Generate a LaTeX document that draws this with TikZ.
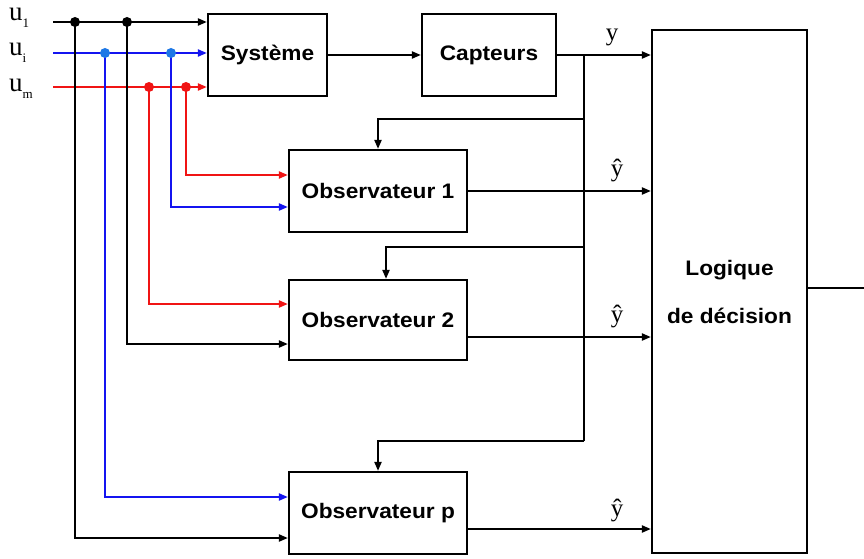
\documentclass[tikz,border=0pt]{standalone}
\usepackage{fontspec}
\usetikzlibrary{arrows.meta,calc}
\newfontfamily\boxfont[FakeStretch=1.08]{Liberation Sans Bold}
\newfontfamily\labfont{Liberation Serif}
\definecolor{myblue}{RGB}{20,20,240}
\definecolor{mydotblue}{RGB}{30,120,230}
\definecolor{myred}{RGB}{240,20,20}
\newcommand{\ulab}[1]{{\labfont\fontsize{27}{27}\selectfont u\raisebox{-7pt}{\fontsize{13}{13}\selectfont #1}}}
\begin{document}
\begin{tikzpicture}[x=1pt,y=-1pt,
  blk/.style={draw,line width=2.2pt,fill=white,inner sep=0pt,font=\boxfont\fontsize{21}{24}\selectfont},
  arr/.style={line width=2pt,-{Triangle[length=9pt,width=7pt]}},
  ln/.style={line width=2pt},
  dotk/.style={circle,fill=black,inner sep=0pt,minimum size=10pt},
  lab/.style={font=\labfont\fontsize{25}{25}\selectfont,inner sep=0pt}
]
\useasboundingbox (0,0) rectangle (864,559);
% blocks
\node[blk,minimum width=119pt,minimum height=82pt] (sys) at (267.5,55) {Système};
\node[blk,minimum width=134pt,minimum height=82pt] (cap) at (489,55) {Capteurs};
\node[blk,minimum width=178pt,minimum height=82pt] (obs1) at (378,191) {Observateur 1};
\node[blk,minimum width=178pt,minimum height=80pt] (obs2) at (378,320) {Observateur 2};
\node[blk,minimum width=178pt,minimum height=82pt] (obsp) at (378,513) {Observateur p};
\node[blk,minimum width=155pt,minimum height=523pt,align=center,font=\boxfont\fontsize{21}{48}\selectfont] (log) at (729.5,291.5) {Logique\\de décision};
% input labels
\node[anchor=base west,inner sep=0pt] (lu1) at (9,21) {\ulab{1}};
\node[anchor=base west,inner sep=0pt] (lui) at (9,56) {\ulab{i}};
\node[anchor=base west,inner sep=0pt] (lum) at (9,92) {\ulab{m}};
% input start points
\coordinate (s1) at (53,22);
\coordinate (si) at (53,53);
\coordinate (sm) at (53,87);
% junction points
\coordinate (j1a) at (75,22);
\coordinate (j1b) at (127,22);
\coordinate (jia) at (105,53);
\coordinate (jib) at (171,53);
\coordinate (jma) at (149,87);
\coordinate (jmb) at (186,87);
% main inputs
\draw[arr] (s1) -- (sys.west |- s1);
\draw[arr,myblue] (si) -- (sys.west |- si);
\draw[arr,myred] (sm) -- (sys.west |- sm);
% branches to observers
\draw[arr,myred] (jmb) |- ([yshift=16pt]obs1.west);
\draw[arr,myblue] (jib) |- ([yshift=-16pt]obs1.west);
\draw[arr,myred] (jma) |- ([yshift=16pt]obs2.west);
\draw[arr] (j1b) |- ([yshift=-24pt]obs2.west);
\draw[arr,myblue] (jia) |- ([yshift=16pt]obsp.west);
\draw[arr] (j1a) |- ([yshift=-25pt]obsp.west);
% dots
\node[dotk] (d1) at (j1a) {};
\node[dotk] (d2) at (j1b) {};
\node[dotk,fill=mydotblue] (d3) at (jia) {};
\node[dotk,fill=mydotblue] (d4) at (jib) {};
\node[dotk,fill=myred] (d5) at (jma) {};
\node[dotk,fill=myred] (d6) at (jmb) {};
% system chain
\draw[arr] (sys.east) -- (cap.west);
\draw[arr] (cap.east) -- (cap.east -| log.west);
\node[lab] (ly) at (612,37) {y};
% feedback
\coordinate (fb0) at (584,55);
\coordinate (fb1) at (584,119);
\coordinate (fb2) at (584,247);
\coordinate (fb3) at (584,441);
\draw[ln] (fb0) -- (fb3);
\draw[arr] (fb1) -| (obs1.north);
\draw[arr] (fb2) -| ([xshift=8pt]obs2.north);
\draw[arr] (fb3) -| (obsp.north);
% observer outputs
\draw[arr] (obs1.east) -- (obs1.east -| log.west);
\draw[arr] ([yshift=-17pt]obs2.east) -- ([yshift=-17pt]obs2.east -| log.west);
\draw[arr] ([yshift=-16pt]obsp.east) -- ([yshift=-16pt]obsp.east -| log.west);
\node[lab] (lh1) at (617,170) {ŷ};
\node[lab] (lh2) at (617,316) {ŷ};
\node[lab] (lh3) at (617,510) {ŷ};
% decision output
\coordinate (out) at (864,288);
\draw[ln] (log.east |- out) -- (out);
\end{tikzpicture}
\end{document}
